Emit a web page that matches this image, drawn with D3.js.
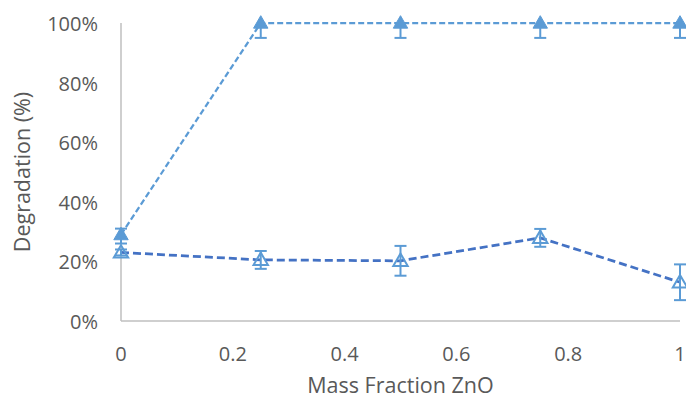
<!DOCTYPE html>
<html>
<head>
<meta charset="utf-8">
<script src="https://cdn.jsdelivr.net/npm/d3@7"></script>
<style>
  body { margin: 0; background: #fff; }
  text { font-family: "Open Sans", "Liberation Sans", sans-serif; fill: #595959; }
</style>
</head>
<body>
<div id="chart"></div>
<script>
  // data
  const fractions = [0, 0.25, 0.5, 0.75, 1];
  const filledVals = [29, 100, 100, 100, 100];
  const filledErrUp = [2, 0, 0, 0, 0];
  const filledErrDown = [3, 5, 5, 5, 5];
  const openVals = [23, 20.5, 20.2, 27.9, 13];
  const openErr = [1, 3, 5, 3, 6];
  const xTicks = [0, 0.2, 0.4, 0.6, 0.8, 1];
  const yTicks = [0, 20, 40, 60, 80, 100];

  const width = 686, height = 403;
  const margin = {left: 121, right: 6, top: 23, bottom: 82};

  const svg = d3.select('#chart').append('svg')
    .attr('width', width).attr('height', height);

  const x = d3.scaleLinear().domain([0, 1]).range([margin.left, width - margin.right]);
  const y = d3.scaleLinear().domain([0, 100]).range([height - margin.bottom, margin.top]);

  // axis lines
  svg.append('line')
    .attr('x1', x(0)).attr('x2', x(1))
    .attr('y1', y(0)).attr('y2', y(0))
    .attr('stroke', '#bfbfbf').attr('stroke-width', 1.5);
  svg.append('line')
    .attr('x1', x(0)).attr('x2', x(0))
    .attr('y1', y(0)).attr('y2', y(100))
    .attr('stroke', '#bfbfbf').attr('stroke-width', 1.5);

  // tick labels
  svg.selectAll('.xt').data(xTicks).enter().append('text')
    .attr('x', d => x(d)).attr('y', 361)
    .attr('text-anchor', 'middle').attr('font-size', 20)
    .text(d => d);
  svg.selectAll('.yt').data(yTicks).enter().append('text')
    .attr('x', 98).attr('y', d => y(d) + 8)
    .attr('text-anchor', 'end').attr('font-size', 20)
    .text(d => d + '%');

  // axis titles
  svg.append('text')
    .attr('x', (x(0) + x(1)) / 2).attr('y', 393)
    .attr('text-anchor', 'middle').attr('font-size', 21.5)
    .text('Mass Fraction ZnO');
  svg.append('text')
    .attr('transform', `translate(30,${(y(0) + y(100)) / 2}) rotate(-90)`)
    .attr('text-anchor', 'middle').attr('font-size', 21.5)
    .text('Degradation (%)');

  const line = d3.line().x(d => x(d[0])).y(d => y(d[1]));
  const filled = fractions.map((f, i) => [f, filledVals[i], filledErrUp[i], filledErrDown[i]]);
  const open = fractions.map((f, i) => [f, openVals[i], openErr[i], openErr[i]]);

  const errColor = '#5b9bd5';
  function errorBars(data) {
    const g = svg.append('g').attr('stroke', errColor).attr('stroke-width', 2).attr('fill', 'none');
    data.forEach(d => {
      const hi = d[1] + d[2], lo = d[1] - d[3];
      g.append('line').attr('x1', x(d[0])).attr('x2', x(d[0])).attr('y1', y(hi)).attr('y2', y(lo));
      if (d[2] > 0) g.append('line').attr('x1', x(d[0]) - 6).attr('x2', x(d[0]) + 6).attr('y1', y(hi)).attr('y2', y(hi));
      g.append('line').attr('x1', x(d[0]) - 6).attr('x2', x(d[0]) + 6).attr('y1', y(lo)).attr('y2', y(lo));
    });
  }

  // lines
  svg.append('path').datum(filled).attr('d', line)
    .attr('fill', 'none').attr('stroke', '#5b9bd5').attr('stroke-width', 2.25)
    .attr('stroke-dasharray', '6,3');
  svg.append('path').datum(open).attr('d', line)
    .attr('fill', 'none').attr('stroke', '#4472c4').attr('stroke-width', 2.75)
    .attr('stroke-dasharray', '8,4');

  errorBars(open);
  errorBars(filled);

  const tri = d3.symbol().type(d3.symbolTriangle).size(90);
  svg.selectAll('.po').data(open).enter().append('path')
    .attr('d', tri)
    .attr('transform', d => `translate(${x(d[0])},${y(d[1]) + 1})`)
    .attr('fill', 'none').attr('stroke', '#5b9bd5').attr('stroke-width', 2);
  svg.selectAll('.pf').data(filled).enter().append('path')
    .attr('d', tri)
    .attr('transform', d => `translate(${x(d[0])},${y(d[1]) + 1})`)
    .attr('fill', '#5b9bd5').attr('stroke', '#5b9bd5').attr('stroke-width', 1);
</script>
</body>
</html>
